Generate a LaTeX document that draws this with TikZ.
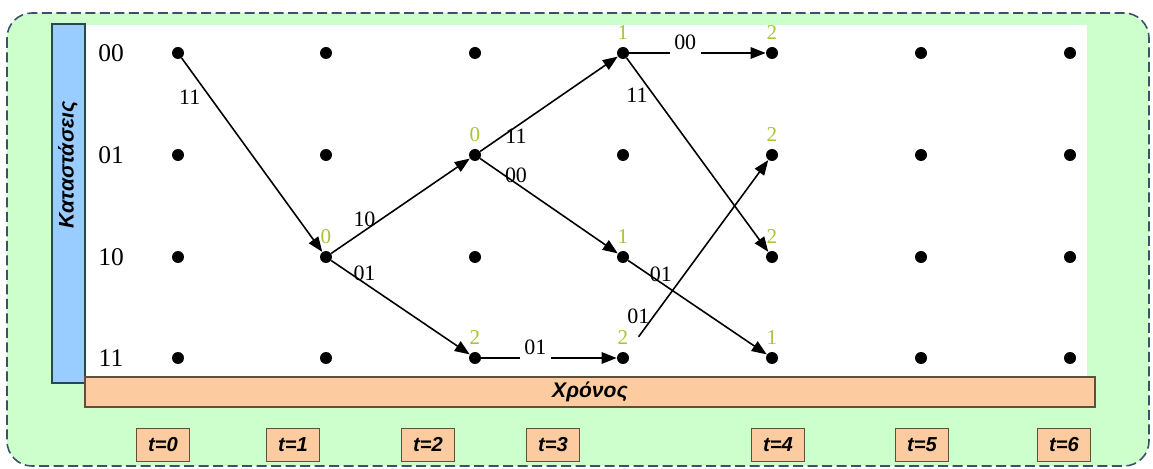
\documentclass[tikz,border=0pt]{standalone}
\usepackage{fontspec}
\setmainfont{Liberation Serif}
\setsansfont{Liberation Sans}
\usetikzlibrary{arrows.meta, positioning}
\definecolor{panelgreen}{RGB}{204,255,204}
\definecolor{framegray}{RGB}{60,80,105}
\definecolor{axisblue}{RGB}{153,204,255}
\definecolor{axisedge}{RGB}{40,70,85}
\definecolor{peach}{RGB}{252,204,160}
\definecolor{peachedge}{RGB}{95,80,60}
\definecolor{metricgreen}{RGB}{170,195,60}
\tikzset{
  dot/.style={circle,fill=black,inner sep=0pt,minimum size=2.4mm},
  rowlab/.style={font=\fontsize{14.5}{16}\selectfont},
  edgelab/.style={font=\fontsize{12.5}{14}\selectfont,inner sep=1pt},
  cutlab/.style={edgelab,fill=white,anchor=base,yshift=2pt,text depth=4pt,inner xsep=2.5pt},
  metric/.style={font=\fontsize{12}{14}\selectfont,text=metricgreen,inner sep=0pt},
  axislab/.style={font=\sffamily\bfseries\itshape\fontsize{12}{14}\selectfont},
  tbox/.style={rectangle,draw=peachedge,fill=peach,line width=0.8pt,minimum width=10.6mm,minimum height=6.6mm,
    font=\sffamily\bfseries\itshape\fontsize{11.5}{13}\selectfont},
  line/.style={-{Triangle[length=8.5pt,width=6.5pt]},line width=0.9pt}
}

\begin{document}
\begin{tikzpicture}[x=0.02cm,y=-0.02cm]
\useasboundingbox (0,0) rectangle (1153,469);

% panel, plot area and the two axes
\draw[framegray,fill=panelgreen,line width=0.9pt,dash pattern=on 2mm off 0.9mm,rounded corners=5mm]
  (7,13) rectangle (1149,466);
\fill[white] (85,25) rectangle (1087,377);
\filldraw[fill=axisblue,draw=axisedge,line width=0.9pt] (52,24) rectangle (85,383);
\node[axislab,rotate=90] (states) at (68,165) {Καταστάσεις};
\filldraw[fill=peach,draw=peachedge,line width=0.9pt] (85,377) rectangle (1095,407);
\node[axislab] (time) at (590,392) {Χρόνος};

\foreach \t/\x in {0/163,1/293,2/428,3/553,4/778,5/922,6/1064}
  \node[tbox] (tick\t) at (\x,445) {t=\t};

% trellis points
\foreach \st/\y in {00/53,01/155,10/257,11/358} {
  \node[rowlab] (row\st) at (111,\y) {\st};
  \foreach \t/\x in {0/178,1/326,2/475,3/623,4/772,5/921,6/1070}
    \node[dot] (s\st t\t) at (\x,\y) {};
}

% surviving branches
\draw[line] (s00t0) -- node[edgelab,pos=0.2,left=4pt] {11} (s10t1);
\draw[line] (s10t1) -- node[edgelab,pos=0.24,above=1pt] {10} (s01t2);
\draw[line] (s10t1) -- node[edgelab,pos=0.24,above=0pt] {01} (s11t2);
\draw[line] (s01t2) -- node[edgelab,pos=0.26,below=0pt] {11} (s00t3);
\draw[line] (s01t2) -- node[edgelab,pos=0.26,above=-1pt] {00} (s10t3);
\draw[line] (s11t2) -- node[cutlab,pos=0.4] {01} (s11t3);
\draw[line] (s00t3) -- node[cutlab,pos=0.41] {00} (s00t4);
\draw[line] (s00t3) -- node[edgelab,pos=0.19,left=2pt] {11} (s10t4);
\draw[line] (s10t3) -- node[edgelab,pos=0.235,above=-1pt] {01} (s11t4);
\draw[line,shorten <=4mm] (s11t3) -- node[edgelab,pos=0.19,left=1pt] {01} (s01t4);

% path metrics
\node[metric,above=1.4mm of s10t1] (m10t1) {0};
\node[metric,above=1.4mm of s01t2] (m01t2) {0};
\node[metric,above=1.4mm of s11t2] (m11t2) {2};
\node[metric,above=1.4mm of s00t3] (m00t3) {1};
\node[metric,above=1.4mm of s10t3] (m10t3) {1};
\node[metric,above=1.4mm of s11t3] (m11t3) {2};
\node[metric,above=1.4mm of s00t4] (m00t4) {2};
\node[metric,above=1.4mm of s01t4] (m01t4) {2};
\node[metric,above=1.4mm of s10t4] (m10t4) {2};
\node[metric,above=1.4mm of s11t4] (m11t4) {1};
\end{tikzpicture}
\end{document}
